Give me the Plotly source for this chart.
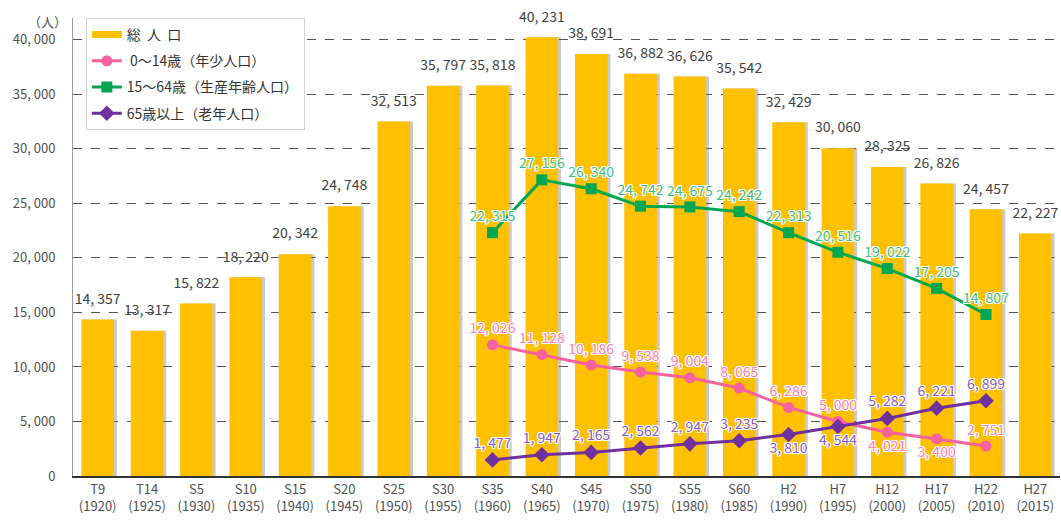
import plotly.graph_objects as go

categories = ["T9<br>(1920)", "T14<br>(1925)", "S5<br>(1930)", "S10<br>(1935)", "S15<br>(1940)",
              "S20<br>(1945)", "S25<br>(1950)", "S30<br>(1955)", "S35<br>(1960)", "S40<br>(1965)",
              "S45<br>(1970)", "S50<br>(1975)", "S55<br>(1980)", "S60<br>(1985)", "H2<br>(1990)",
              "H7<br>(1995)", "H12<br>(2000)", "H17<br>(2005)", "H22<br>(2010)", "H27<br>(2015)"]
total = [14357, 13317, 15822, 18220, 20342, 24748, 32513, 35797, 35818, 40231,
         38691, 36882, 36626, 35542, 32429, 30060, 28325, 26826, 24457, 22227]
line_cats = categories[8:19]
young = [12026, 11128, 10186, 9538, 9004, 8065, 6286, 5000, 4021, 3400, 2751]
working = [22315, 27156, 26340, 24742, 24675, 24242, 22313, 20516, 19022, 17205, 14807]
elderly = [1477, 1947, 2165, 2562, 2947, 3235, 3810, 4544, 5282, 6221, 6899]
young_pos = ["top center"] * 8 + ["bottom center"] * 2 + ["top center"]
elderly_pos = ["top center"] * 6 + ["bottom center"] * 2 + ["top center"] * 3
y_ticks = [0, 5000, 10000, 15000, 20000, 25000, 30000, 35000, 40000]

def fmt(v):
    return f"{v:,}".replace(",", ", ")

halo = ("1px 1px 0 #fff, -1px -1px 0 #fff, 1px -1px 0 #fff, -1px 1px 0 #fff, "
        "0 1px 0 #fff, 0 -1px 0 #fff, 1px 0 0 #fff, -1px 0 0 #fff")
FONT = "Noto Sans CJK JP"

fig = go.Figure()
# bar shadow
fig.add_trace(go.Bar(x=categories, y=total, width=0.66, offset=-0.27,
                     marker=dict(color="rgba(100,100,100,0.35)", line=dict(width=0)),
                     showlegend=False, hoverinfo="skip"))
fig.add_trace(go.Bar(x=categories, y=total, width=0.66, offset=-0.33,
                     marker=dict(color="#FFC000", line=dict(width=0)),
                     showlegend=False, name="総 人 口"))
# total labels
fig.add_trace(go.Scatter(x=categories, y=total, mode="markers+text",
                         marker=dict(size=18, opacity=0),
                         text=[fmt(v) for v in total], textposition="top center",
                         textfont=dict(color="#404040", size=14, family=FONT),
                         cliponaxis=False, showlegend=False, hoverinfo="skip"))
# legend proxy for bars
fig.add_trace(go.Scatter(x=[None], y=[None], mode="lines", name="総  人  口", legendgroup="a",
                         line=dict(color="#FFC000", width=7)))
fig.add_trace(go.Scatter(x=line_cats, y=young, mode="lines+markers+text", name=" 0～14歳（年少人口）",
                         legendgroup="b",
                         line=dict(color="#F5629E", width=3),
                         marker=dict(symbol="circle", size=11, color="#F5629E"),
                         text=[fmt(v) for v in young], textposition=young_pos,
                         textfont=dict(color="#FF7FB0", size=14, family=FONT, shadow=halo),
                         cliponaxis=False))
fig.add_trace(go.Scatter(x=line_cats, y=working, mode="lines+markers+text", name="15～64歳（生産年齢人口）",
                         legendgroup="c",
                         line=dict(color="#00A650", width=3),
                         marker=dict(symbol="square", size=11, color="#00A650"),
                         text=[fmt(v) for v in working], textposition="top center",
                         textfont=dict(color="#3DBE84", size=14, family=FONT, shadow=halo),
                         cliponaxis=False))
fig.add_trace(go.Scatter(x=line_cats, y=elderly, mode="lines+markers+text", name="65歳以上（老年人口）",
                         legendgroup="d",
                         line=dict(color="#7030A0", width=3),
                         marker=dict(symbol="diamond", size=12, color="#7030A0"),
                         text=[fmt(v) for v in elderly], textposition=elderly_pos,
                         textfont=dict(color="#8A5CC0", size=14, family=FONT, shadow=halo),
                         cliponaxis=False))

fig.update_layout(
    width=1061, height=521,
    margin=dict(l=73, r=1, t=18, b=45),
    paper_bgcolor="white", plot_bgcolor="white",
    barmode="overlay",
    font=dict(family=FONT, size=13, color="#404040"),
    showlegend=True,
    legend=dict(x=0.013, y=1.0, xanchor="left", yanchor="top",
                bgcolor="white", bordercolor="#D0D0D0", borderwidth=1,
                font=dict(size=14, color="#333333", family=FONT),
                tracegroupgap=5, itemwidth=30),
    xaxis=dict(type="category", categoryorder="array", categoryarray=categories,
               showline=True, linecolor="#333333", linewidth=2,
               ticks="", tickfont=dict(size=13, color="#505050"),
               range=[-0.5, 19.5], showgrid=False, zeroline=False),
    yaxis=dict(range=[0, 42000], tickvals=y_ticks, ticktext=[fmt(v) for v in y_ticks],
               showline=True, linecolor="#999999", linewidth=1,
               showgrid=True, gridcolor="#555555", griddash="dash", gridwidth=1,
               zeroline=False, ticks="", ticklabelstandoff=14,
               tickfont=dict(size=13, color="#505050")),
)
fig.add_annotation(text="（人）", xref="paper", yref="paper", x=-0.026, y=0.993,
                   xanchor="center", yanchor="middle", showarrow=False,
                   font=dict(size=13, color="#505050"))
fig.write_html("out.html")
